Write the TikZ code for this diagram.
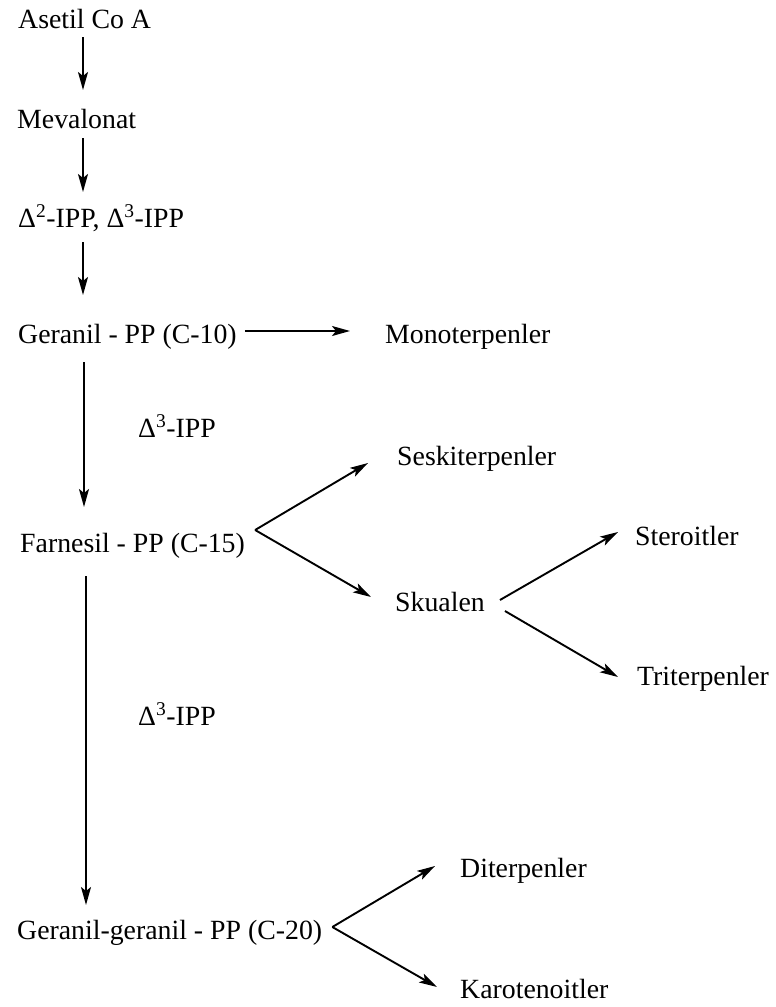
\documentclass[tikz,border=0pt]{standalone}
\usepackage{fontspec}
\setmainfont{Liberation Serif}
\usetikzlibrary{arrows.meta,calc}
\begin{document}
\begin{tikzpicture}[x=1pt,y=-1pt,
  every node/.style={inner sep=0pt,anchor=base west,font=\fontsize{27.8}{33}\selectfont},
  arr/.style={line width=1.9pt,-{Stealth[length=18pt,width=10pt,inset=4pt]}}]
\useasboundingbox (0,0) rectangle (776,1007);

% main chain
\node (acetyl) at (18,28)  {Asetil Co A};
\node (meval)  at (17,128) {Mevalonat};
\node (ipp)    at (18,227) {Δ\textsuperscript{2}-IPP, Δ\textsuperscript{3}-IPP};
\node (gpp)    at (18,343) {Geranil - PP (C-10)};
\node (fpp)    at (20,552) {Farnesil - PP (C-15)};
\node (ggpp)   at (17,939) {Geranil-geranil - PP (C-20)};

% side products
\node (mono)  at (385,343) {Monoterpenler};
\node (sesk)  at (397,465) {Seskiterpenler};
\node (skual) at (395,611) {Skualen};
\node (ster)  at (635,545) {Steroitler};
\node (trit)  at (637,685) {Triterpenler};
\node (diter) at (460,877) {Diterpenler};
\node (karot) at (460,998) {Karotenoitler};

% step labels
\node (lab1) at (138,437) {Δ\textsuperscript{3}-IPP};
\node (lab2) at (138,725) {Δ\textsuperscript{3}-IPP};

% vertical steps
\draw[arr] ($(acetyl.base west)+(65,9)$) -- ($(meval.base west)+(66,-38)$);
\draw[arr] ($(meval.base west)+(66,10)$) -- ($(ipp.base west)+(65,-35)$);
\draw[arr] ($(ipp.base west)+(65,15)$) -- ($(gpp.base west)+(65,-48)$);
\draw[arr] ($(gpp.base west)+(66,19)$) -- ($(fpp.base west)+(64,-45)$);
\draw[arr] ($(fpp.base west)+(66,24)$) -- ($(ggpp.base west)+(69,-34)$);

% branches
\draw[arr] ($(gpp.base east)+(8,-12)$) -- ($(mono.base west)+(-35,-12)$);

\coordinate (f1) at ($(fpp.base east)+(10,-22)$);
\draw[arr] (f1) -- ($(sesk.base west)+(-29,-2)$);
\draw[arr] (f1) -- ($(skual.base west)+(-24,-14)$);

\draw[arr] ($(skual.base east)+(15,-11)$) -- ($(ster.base west)+(-17,-13)$);
\draw[arr] ($(skual.base east)+(20,0)$) -- ($(trit.base west)+(-19,-8)$);

\coordinate (f2) at ($(ggpp.base east)+(10,-12)$);
\draw[arr] (f2) -- ($(diter.base west)+(-25,-11)$);
\draw[arr] (f2) -- ($(karot.base west)+(-23,-11)$);
\end{tikzpicture}
\end{document}
